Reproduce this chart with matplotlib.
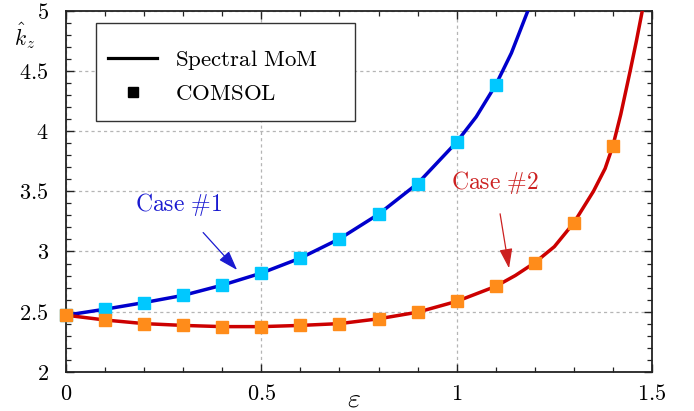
import matplotlib
matplotlib.use("Agg")
import matplotlib.pyplot as plt
from matplotlib.lines import Line2D
from matplotlib.patches import Rectangle
from matplotlib.ticker import MultipleLocator

plt.rcParams['mathtext.fontset'] = 'cm'

# COMSOL samples
eps_c1 = [0.0, 0.1, 0.2, 0.3, 0.4, 0.5, 0.6, 0.7, 0.8, 0.9, 1.0, 1.1]
kz_c1 = [2.47, 2.52, 2.575, 2.635, 2.72, 2.82, 2.945, 3.105, 3.31, 3.565, 3.91, 4.385]
eps_c2 = [0.0, 0.1, 0.2, 0.3, 0.4, 0.5, 0.6, 0.7, 0.8, 0.9, 1.0, 1.1, 1.2, 1.3, 1.4]
kz_c2 = [2.47, 2.43, 2.40, 2.385, 2.375, 2.375, 2.385, 2.40, 2.44, 2.495, 2.585, 2.71, 2.907, 3.239, 3.88]

# Spectral MoM curves
eps_l1 = [0.0, 0.1, 0.2, 0.3, 0.4, 0.5, 0.6, 0.7, 0.8, 0.9, 1.0, 1.05, 1.1, 1.14, 1.182]
kz_l1 = [2.47, 2.52, 2.575, 2.635, 2.72, 2.82, 2.945, 3.105, 3.31, 3.565, 3.91, 4.12, 4.385, 4.65, 5.0]
eps_l2 = [0.0, 0.1, 0.2, 0.3, 0.4, 0.5, 0.6, 0.7, 0.8, 0.9, 1.0, 1.1, 1.15, 1.2, 1.25,
          1.3, 1.35, 1.38, 1.4, 1.42, 1.444, 1.46, 1.475]
kz_l2 = [2.47, 2.43, 2.40, 2.385, 2.375, 2.375, 2.385, 2.40, 2.44, 2.495, 2.585, 2.71, 2.80, 2.907, 3.04,
         3.239, 3.50, 3.69, 3.88, 4.14, 4.5, 4.75, 5.0]

xticks = [0, 0.5, 1, 1.5]
xtick_labels = ['0', '0.5', '1', '1.5']
yticks = [2, 2.5, 3, 3.5, 4, 4.5, 5]
ytick_labels = ['2', '2.5', '3', '3.5', '4', '4.5', '5']

fig = plt.figure(figsize=(6.94, 4.11), dpi=100)
ax = fig.add_axes([0.0951, 0.0956, 0.8444, 0.8776])

ax.plot(eps_l1, kz_l1, color='#0000cc', lw=2.5, zorder=3, solid_joinstyle='round')
ax.plot(eps_l2, kz_l2, color='#cc0000', lw=2.5, zorder=3, solid_joinstyle='round')
ax.plot(eps_c1, kz_c1, 's', color='#00c8ff', ms=8, zorder=4, clip_on=False)
ax.plot(eps_c2, kz_c2, 's', color='#ff8c1a', ms=8, zorder=5, clip_on=False)

ax.set_xlim(0, 1.5)
ax.set_ylim(2, 5)
ax.set_xticks(xticks)
ax.set_xticklabels(['$%s$' % s for s in xtick_labels])
ax.set_yticks(yticks)
ax.set_yticklabels(['$%s$' % s for s in ytick_labels])
ax.xaxis.set_minor_locator(MultipleLocator(0.1))
ax.yaxis.set_minor_locator(MultipleLocator(0.1))
ax.tick_params(which='both', direction='in', top=True, right=True, colors='#222222')
ax.tick_params(which='major', length=6, width=1.0, labelsize=16, labelcolor='black')
ax.tick_params(axis='x', which='major', pad=9)
ax.tick_params(axis='y', which='major', pad=12.5)
ax.tick_params(which='minor', length=3.5, width=0.9)
for s in ax.spines.values():
    s.set_linewidth(1.3)
    s.set_color('#222222')
ax.grid(True, which='major', color='#b5b5b5', linestyle=(0, (2.5, 2.5)), linewidth=0.9)
ax.set_axisbelow(True)

ax.text(-0.070, 0.932, r'$\hat{k}_z$', transform=ax.transAxes, ha='center', va='center', fontsize=15.5)
ax.text(0.4915, -0.0965, r'$\varepsilon$', transform=ax.transAxes, ha='center', va='baseline', fontsize=20)

ax.annotate(r'$\mathrm{Case\ \#1}$', xy=(0.438, 2.846), xytext=(0.287, 3.387),
            color='#1a1ad0', fontsize=17, ha='center', va='center',
            arrowprops=dict(arrowstyle='-|>,head_length=0.6,head_width=0.2', color='#1a1ad0', lw=0.9,
                            mutation_scale=20, shrinkA=11, shrinkB=0))
ax.annotate(r'$\mathrm{Case\ \#2}$', xy=(1.134, 2.86), xytext=(1.098, 3.574),
            color='#cc2020', fontsize=17, ha='center', va='center',
            arrowprops=dict(arrowstyle='-|>,head_length=0.6,head_width=0.2', color='#cc2020', lw=0.9,
                            mutation_scale=20, shrinkA=11, shrinkB=0))

# legend frame
ax.add_patch(Rectangle((0.0512, 0.695), 0.442, 0.2717, transform=ax.transAxes,
                       facecolor='white', edgecolor='#333333', lw=1.0, zorder=6))
handles = [Line2D([], [], color='black', lw=2.3),
           Line2D([], [], color='black', marker='s', ls='none', ms=6.5)]
labels = [r'$\mathrm{Spectral\ MoM}$', r'$\mathrm{COMSOL}$']
leg = ax.legend(handles, labels, loc='upper left',
                bbox_to_anchor=(0.0717, 0.8975), borderaxespad=0, borderpad=0,
                fontsize=16.5, frameon=False, labelspacing=0.42,
                handlelength=2.14, handletextpad=0.79)
leg.set_zorder(7)

fig.savefig('out.png', dpi=100)
